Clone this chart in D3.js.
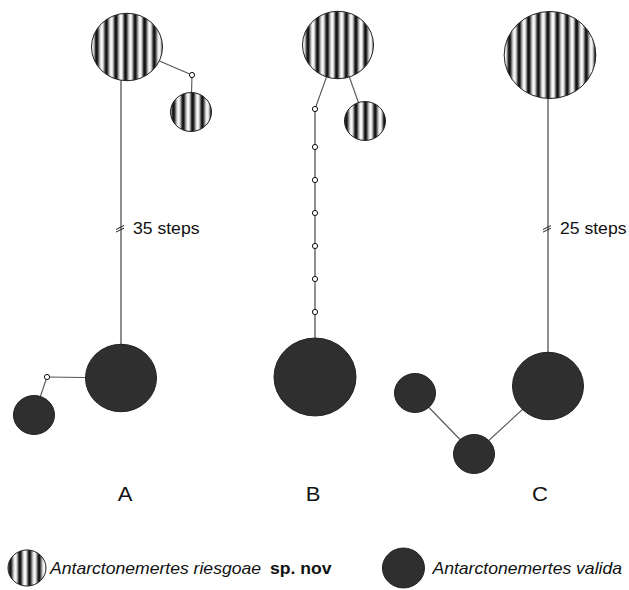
<!DOCTYPE html>
<html>
<head>
<meta charset="utf-8">
<script src="https://cdn.jsdelivr.net/npm/d3@7"></script>
<style>
body { margin: 0; background: #fff; }
svg { display: block; }
</style>
</head>
<body>
<div id="network"></div>
<script>
// DATA

// panels of the figure
var panels = ['A', 'B', 'C'];
var panelLabelX = [12.5, 31.3, 54.0];   // layout units

// haplotypes (missing / intermediate ones have 0 sequences)
var hapIds     = ['a1', 'a2', 'am1', 'a3', 'a4', 'am2',
                  'b1', 'b2', 'bm1', 'bm2', 'bm3', 'bm4', 'bm5', 'bm6', 'bm7', 'b3',
                  'c1', 'c2', 'c3', 'c4'];
var hapSpecies = ['riesgoae', 'riesgoae', 'missing', 'valida', 'valida', 'missing',
                  'riesgoae', 'riesgoae', 'missing', 'missing', 'missing', 'missing', 'missing', 'missing', 'missing', 'valida',
                  'riesgoae', 'valida', 'valida', 'valida'];
var hapCount   = [3, 1, 0, 3, 1, 0,
                  3, 1, 0, 0, 0, 0, 0, 0, 0, 4,
                  5, 3, 1, 1];

// network layout, layout units
var hapLayoutX = [12.7, 19.1, 19.2, 12.1, 3.4, 4.7,
                  33.8, 36.5, 31.5, 31.5, 31.5, 31.5, 31.5, 31.5, 31.5, 31.5,
                  55.0, 54.8, 41.5, 47.4];
var hapLayoutY = [4.7, 11.2, 7.5, 37.8, 41.5, 37.7,
                  4.5, 12.1, 10.9, 14.7, 18.0, 21.3, 24.6, 27.9, 31.2, 37.7,
                  5.5, 38.6, 39.3, 45.4];

// links between haplotypes, with number of mutational steps
var linkSource = ['a1', 'am1', 'a1', 'a3', 'am2',
                  'b1', 'b1', 'bm1', 'bm2', 'bm3', 'bm4', 'bm5', 'bm6', 'bm7',
                  'c1', 'c2', 'c4'];
var linkTarget = ['am1', 'a2', 'a3', 'am2', 'a4',
                  'b2', 'bm1', 'bm2', 'bm3', 'bm4', 'bm5', 'bm6', 'bm7', 'b3',
                  'c2', 'c4', 'c3'];
var linkSteps  = [1, 1, 35, 1, 1,
                  1, 1, 1, 1, 1, 1, 1, 1, 1,
                  25, 1, 1];

var speciesNames = ['riesgoae', 'valida'];
var speciesLabel = ['Antarctonemertes riesgoae', 'Antarctonemertes valida'];


// GRAPHICS

var width = 629, height = 590;
var FONT = '"Liberation Sans", Arial, Helvetica, sans-serif';
var DARK = '#2f2f2f';
var ky = 0.95;          // the original figure is a bit squashed vertically
var stretch = 1.1;      // and its text a bit wide
var breakY = 22.8;      // where long links are cut

var x = d3.scaleLinear().domain([0, 62.9]).range([0, width]);
var y = d3.scaleLinear().domain([0, 59]).range([0, height]);
var r = d3.scaleSqrt().domain([0, 1]).range([0, 20.5]);

var svgContainer = d3.select('#network').append('svg')
    .attr('width', width).attr('height', height);

// stripes used for A. riesgoae
var defs = svgContainer.append('defs');
var grad = defs.append('linearGradient').attr('id', 'stripeGrad')
    .attr('x1', 0).attr('x2', 1).attr('y1', 0).attr('y2', 0);
[[0, '#111'], [0.15, '#1a1a1a'], [0.32, '#8c8c8c'], [0.5, '#f4f4f4'],
 [0.62, '#fff'], [0.8, '#bbb'], [0.92, '#444'], [1, '#111']].forEach(function(s) {
    grad.append('stop').attr('offset', s[0]).attr('stop-color', s[1]);
});
defs.append('pattern').attr('id', 'stripes')
    .attr('patternUnits', 'userSpaceOnUse')
    .attr('width', 9.6).attr('height', 10)
    .append('rect').attr('width', 9.6).attr('height', 10)
    .attr('fill', 'url(#stripeGrad)');

function fillFor(species) {
    return species === 'riesgoae' ? 'url(#stripes)' : DARK;
}

var haps = hapIds.map(function(id, i) {
    return {id: id, species: hapSpecies[i], count: hapCount[i],
            x: x(hapLayoutX[i]), y: y(hapLayoutY[i])};
});
var byId = {};
haps.forEach(function(h) { byId[h.id] = h; });

var links = linkSource.map(function(s, i) {
    return {source: byId[s], target: byId[linkTarget[i]], steps: linkSteps[i]};
});

// links
links.forEach(function(l) {
    var long = l.steps > 1;
    // long links run straight up from the lower haplotype
    var x1 = long ? l.target.x : l.source.x;
    svgContainer.append('line')
        .attr('x1', x1).attr('y1', l.source.y)
        .attr('x2', l.target.x).attr('y2', l.target.y)
        .attr('stroke', long || l.source.x === l.target.x ? '#333' : '#555')
        .attr('stroke-width', 1.1);

    if (long) {
        var by = y(breakY);
        var bx = l.target.x;
        [0, 2.6].forEach(function(o) {
            svgContainer.append('line')
                .attr('x1', bx - 5).attr('y1', by + 1.5 + o)
                .attr('x2', bx + 3).attr('y2', by - 2.5 + o)
                .attr('stroke', '#222').attr('stroke-width', 1);
        });
        drawText(l.steps + ' steps', bx + 12, by + 6, 16, {});
    }
});

// haplotypes
haps.forEach(function(h) {
    if (h.count === 0) {
        svgContainer.append('circle')
            .attr('cx', h.x).attr('cy', h.y).attr('r', 2.6)
            .attr('fill', '#fff').attr('stroke', '#111').attr('stroke-width', 1);
        return;
    }
    var rad = r(h.count);
    svgContainer.append('ellipse')
        .attr('cx', h.x).attr('cy', h.y)
        .attr('rx', rad).attr('ry', rad * ky)
        .attr('fill', fillFor(h.species))
        .attr('stroke', '#222').attr('stroke-width', 1);
});

// panel letters
panels.forEach(function(p, i) {
    drawText(p, x(panelLabelX[i]), 501, 20, {anchor: 'middle'});
});

// legend
var ly = 568;
var cur = 8;
svgContainer.append('ellipse')
    .attr('cx', cur + 19).attr('cy', ly).attr('rx', 19).attr('ry', 19 * ky)
    .attr('fill', fillFor('riesgoae')).attr('stroke', '#222');
cur += 42;
var t1 = drawText(speciesLabel[0], cur, ly + 6, 16, {style: 'italic'});
cur += textWidth(t1) + 9;
var t2 = drawText('sp. nov', cur, ly + 6, 16, {weight: 'bold'});

var t3 = drawText(speciesLabel[1], 0, ly + 6, 16, {style: 'italic'});
var w3 = textWidth(t3);
var startValida = 622 - w3;
t3.attr('transform', 'translate(' + startValida + ',' + (ly + 6) + ') scale(' + stretch + ',1)');
svgContainer.append('ellipse')
    .attr('cx', startValida - 8 - 21).attr('cy', ly).attr('rx', 21).attr('ry', 21 * ky)
    .attr('fill', fillFor('valida')).attr('stroke', '#222');

function drawText(txt, tx, ty, size, opts) {
    return svgContainer.append('text')
        .attr('transform', 'translate(' + tx + ',' + ty + ') scale(' + stretch + ',1)')
        .attr('text-anchor', opts.anchor || 'start')
        .style('font-family', FONT)
        .style('font-size', size + 'px')
        .style('font-style', opts.style || 'normal')
        .style('font-weight', opts.weight || 'normal')
        .attr('fill', '#111')
        .text(txt);
}

function textWidth(t) { return t.node().getComputedTextLength() * stretch; }
</script>
</body>
</html>
